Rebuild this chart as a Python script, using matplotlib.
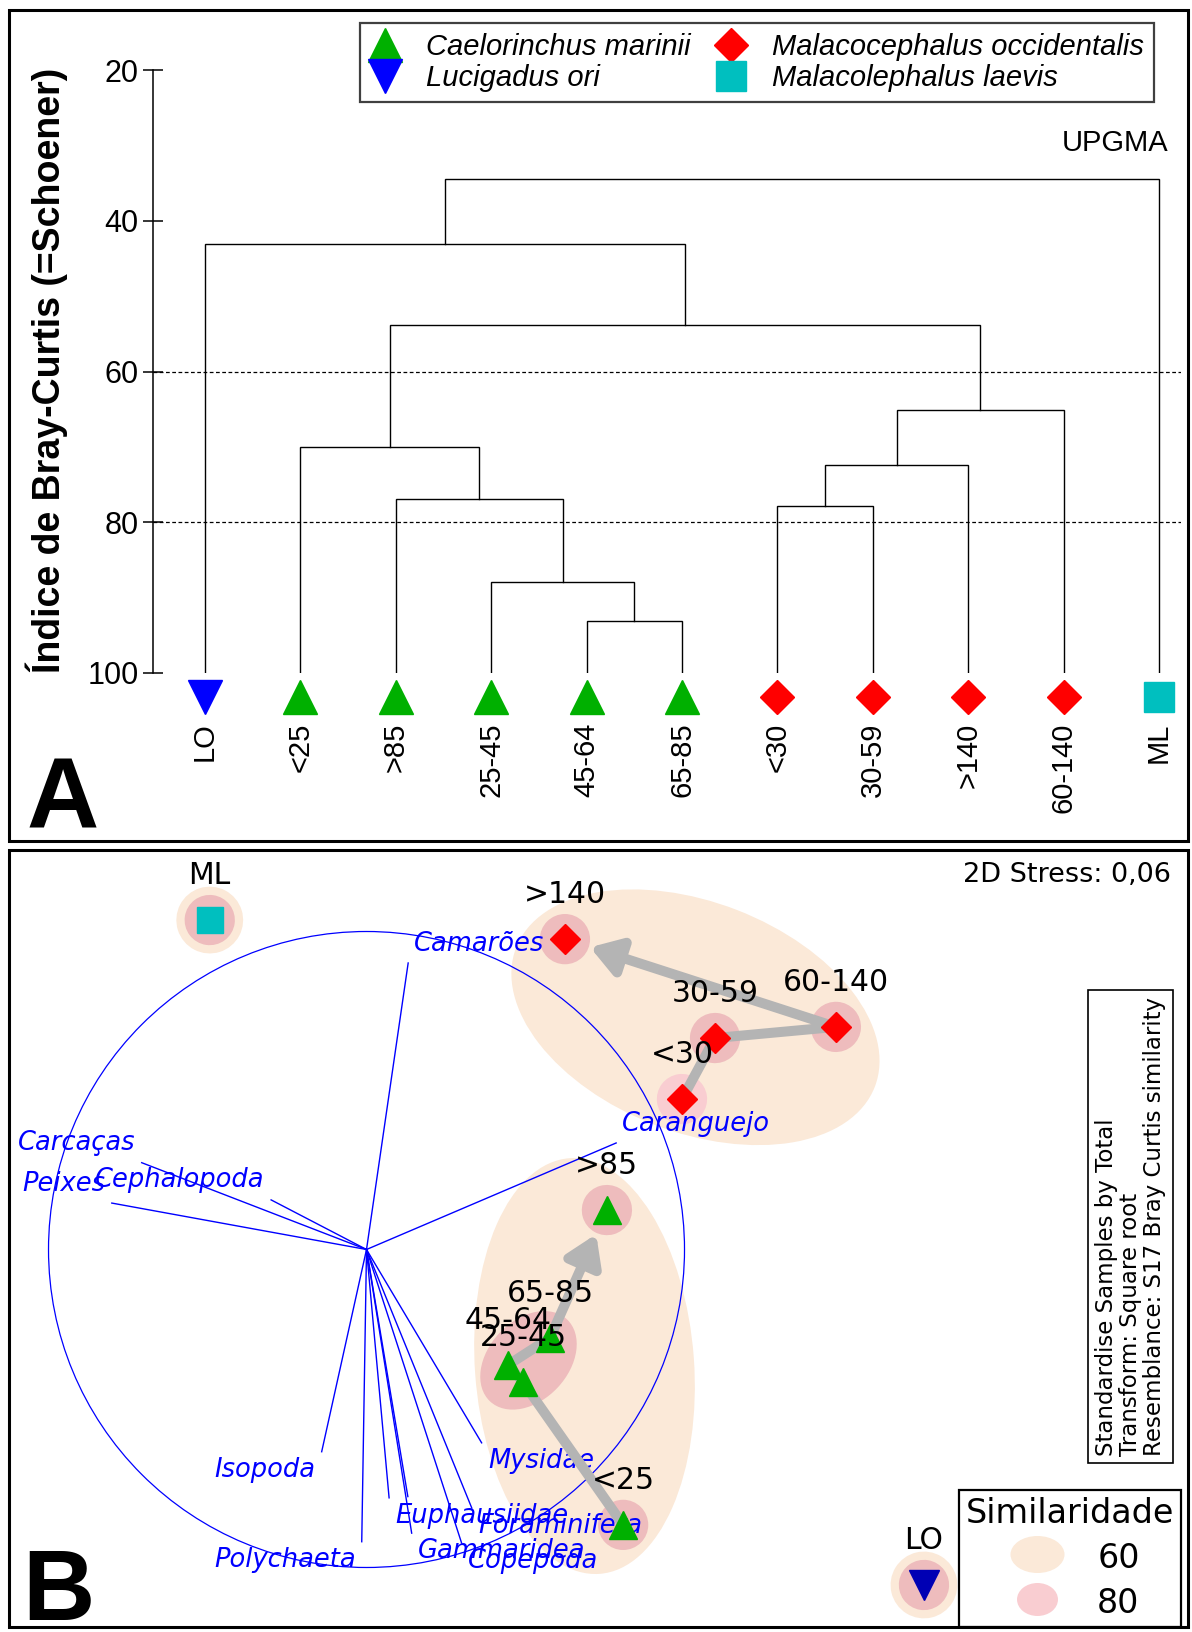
import matplotlib
matplotlib.use('Agg')
import matplotlib.pyplot as plt
import numpy as np
from matplotlib.lines import Line2D
from matplotlib.patches import Circle, Ellipse, Rectangle
from matplotlib.path import Path
from matplotlib.transforms import Affine2D

plt.rcParams['font.family'] = ['Liberation Sans', 'DejaVu Sans']

W, H = 1192, 1632

# ---------------------------------------------------------------- data
# species: key -> legend label
species_keys = ['CM', 'LO', 'MO', 'ML']
species_labels = ['Caelorinchus marinii', 'Lucigadus ori',
                  'Malacocephalus occidentalis', 'Malacolephalus laevis']

# panel A: UPGMA dendrogram (leaves in plotting order)
leaf_labels = ['LO', '<25', '>85', '25-45', '45-64', '65-85',
               '<30', '30-59', '>140', '60-140', 'ML']
leaf_species = ['LO', 'CM', 'CM', 'CM', 'CM', 'CM',
                'MO', 'MO', 'MO', 'MO', 'ML']
# merges, scipy style: new node ids start at len(leaf_labels)
merge_a = [4, 3, 2, 1, 6, 15, 16, 14, 0, 19]
merge_b = [5, 11, 12, 13, 7, 8, 9, 17, 18, 10]
merge_sim = [93.1, 87.9, 76.9, 70.0, 77.8, 72.4, 65.1, 53.8, 43.1, 34.5]
cut_levels = [60, 80]
y_ticks = [20, 40, 60, 80, 100]

# panel B: nMDS ordination
sample_names = ['ML', '>140', '30-59', '60-140', '<30', '>85',
                '65-85', '45-64', '25-45', '<25', 'LO']
sample_species = ['ML', 'MO', 'MO', 'MO', 'MO', 'CM',
                  'CM', 'CM', 'CM', 'CM', 'LO']
mds_x = [-0.493, 0.624, 1.096, 1.476, 0.992, 0.756,
         0.577, 0.445, 0.492, 0.807, 1.753]
mds_y = [1.036, 0.976, 0.665, 0.700, 0.473, 0.124,
         -0.278, -0.363, -0.417, -0.866, -1.055]

groups_60 = [['ML'], ['>140', '30-59', '60-140', '<30'],
             ['>85', '65-85', '45-64', '25-45', '<25'], ['LO']]
groups_80 = [['ML'], ['>140'], ['30-59'], ['60-140'], ['<30'], ['>85'],
             ['65-85', '45-64', '25-45'], ['<25'], ['LO']]
trajectories = [['<30', '30-59', '60-140', '>140'],
                ['<25', '25-45', '45-64', '65-85', '>85']]

# prey vectors (correlation circle); one vector has no printed label
vec_names = ['Camarões', 'Carcaças', 'Peixes', 'Cephalopoda', 'Caranguejo',
             'Isopoda', 'Polychaeta', 'Euphausiidae', '', 'Gammaridea',
             'Copepoda', 'Foraminifera', 'Mysidae']
vec_x = [0.131, -0.707, -0.801, -0.300, 0.785, -0.141, -0.015,
         0.071, 0.130, 0.142, 0.299, 0.331, 0.362]
vec_y = [0.901, 0.273, 0.146, 0.156, 0.335, -0.636, -0.919,
         -0.781, -0.777, -0.892, -0.923, -0.813, -0.608]

stress_text = '2D Stress: 0,06'
info_text = ('Standardise Samples by Total\nTransform: Square root\n'
             'Resemblance: S17 Bray Curtis similarity')

# ---------------------------------------------------------------- styles
sp_marker = {'CM': '^', 'LO': 'v', 'MO': 'D', 'ML': 's'}
sp_color = {'CM': '#00b000', 'LO': '#0000ff', 'MO': '#ff0000', 'ML': '#00bfbf'}
ms_a = {'CM': 25, 'LO': 25, 'MO': 17.5, 'ML': 21}
ms_b = {'CM': 19.5, 'LO': 21, 'MO': 15.3, 'ML': 18.5}
BEIGE = '#fbe9d8'
PINK = '#eebcbd'
PINK_LIGHT = '#f9cdd1'
GRAY = '#b4b4b4'
BLUE = '#0000ff'


def px_rect(x0, y0, x1, y1):
    """Figure-fraction rect from pixel box (top-left origin)."""
    return [x0 / W, 1 - y1 / H, (x1 - x0) / W, (y1 - y0) / H]


def enclosing_ellipse(xs, ys, r, **kw):
    """Minimum-area ellipse round discs of radius r (Khachiyan)."""
    t = np.linspace(0, 2 * np.pi, 48, endpoint=False)
    px = (np.asarray(xs)[:, None] + r * np.cos(t)).ravel()
    py = (np.asarray(ys)[:, None] + r * np.sin(t)).ravel()
    P = np.column_stack([px, py])
    n, d = P.shape
    Q = np.vstack([P.T, np.ones(n)])
    u = np.ones(n) / n
    for _ in range(20000):
        X = (Q * u) @ Q.T
        M = np.einsum('ij,ji->i', Q.T @ np.linalg.inv(X), Q)
        j = np.argmax(M)
        step = (M[j] - d - 1) / ((d + 1) * (M[j] - 1))
        new_u = (1 - step) * u
        new_u[j] += step
        done = np.linalg.norm(new_u - u) < 1e-7
        u = new_u
        if done:
            break
    c = P.T @ u
    A = np.linalg.inv((P.T * u) @ P - np.outer(c, c)) / d
    evals, evecs = np.linalg.eigh(A)
    semi = 1 / np.sqrt(evals)
    ang = np.degrees(np.arctan2(evecs[1, 0], evecs[0, 0]))
    return Ellipse(c, 2 * semi[0], 2 * semi[1], angle=ang, **kw)


fig = plt.figure(figsize=(W / 100, H / 100), dpi=100, facecolor='white')

# ================================================================ panel A
ax = fig.add_axes(px_rect(153, 70, 1181, 673))
ax.set_ylim(100, 20)
ax.set_xlim(-0.545, 10.23)
for side in ['top', 'right', 'bottom']:
    ax.spines[side].set_visible(False)
ax.spines['left'].set_linewidth(1.1)
ax.set_xticks([])
ax.set_yticks(y_ticks)
ax.tick_params(axis='y', direction='inout', length=15, width=1.1,
               labelsize=22, pad=3)

n_leaves = len(leaf_labels)
node_x = {i: float(i) for i in range(n_leaves)}
node_h = {i: 100.0 for i in range(n_leaves)}
for k, (a, b, s) in enumerate(zip(merge_a, merge_b, merge_sim)):
    xa, xb = node_x[a], node_x[b]
    ax.plot([xa, xa, xb, xb], [node_h[a], s, s, node_h[b]],
            color='black', lw=1.0, solid_joinstyle='miter')
    node_x[n_leaves + k] = (xa + xb) / 2
    node_h[n_leaves + k] = s

for lvl in cut_levels:
    ax.axhline(lvl, color='black', lw=0.9, ls=(0, (3, 2)))

for i, (lab, sp) in enumerate(zip(leaf_labels, leaf_species)):
    ax.plot(i, 103.2, ls='', marker=sp_marker[sp], ms=ms_a[sp],
            color=sp_color[sp], mec=sp_color[sp], clip_on=False)
    ax.text(i, 106.6, lab, rotation=90, ha='center', va='top', fontsize=21)

ax.text(0.988, 0.879, 'UPGMA', transform=ax.transAxes, ha='right',
        va='center', fontsize=21)

handles = [Line2D([], [], ls='', marker=sp_marker[k], ms=ms_a[k],
                  color=sp_color[k]) for k in species_keys]
leg = ax.legend(handles, species_labels, ncol=2, loc='upper left',
                bbox_to_anchor=(360 / W, 1 - 23 / H),
                bbox_transform=fig.transFigure, numpoints=1,
                prop=dict(family='Liberation Sans', style='italic', size=21),
                fancybox=False, edgecolor='#404040', framealpha=1,
                borderpad=0.35, handlelength=1.0, handletextpad=0.9,
                columnspacing=0.9, labelspacing=0.1, borderaxespad=0)
leg.get_frame().set_linewidth(1.6)

fig.text(47 / W, 1 - 370 / H, 'Índice de Bray-Curtis (=Schoener)',
         rotation=90, ha='center', va='center', fontsize=27,
         fontweight='bold')
fig.text(27 / W, 1 - 828 / H, 'A', fontsize=72, fontweight='bold',
         ha='left', va='baseline')

# ================================================================ panel B
bx = fig.add_axes(px_rect(8, 848, 1188, 1628))
bx.set_xlim(-1.1274, 2.5833)
bx.set_ylim(-1.1903, 1.2626)
bx.axis('off')

pos = {n: (x, y) for n, x, y in zip(sample_names, mds_x, mds_y)}
sp_of = dict(zip(sample_names, sample_species))

for grp in groups_60:
    xs, ys = zip(*[pos[n] for n in grp])
    bx.add_patch(enclosing_ellipse(xs, ys, 0.105, fc=BEIGE, ec='none',
                                   zorder=1))
for grp in groups_80:
    xs, ys = zip(*[pos[n] for n in grp])
    col = PINK_LIGHT if grp == ['<30'] else PINK
    bx.add_patch(enclosing_ellipse(xs, ys, 0.079, fc=col, ec='none',
                                   zorder=2))

bx.add_patch(Circle((0, 0), 1, fill=False, ec=BLUE, lw=0.9, zorder=3))
for name, vx, vy in zip(vec_names, vec_x, vec_y):
    bx.plot([0, vx], [0, vy], color=BLUE, lw=1.0, zorder=3)
    if name:
        dx = 4.5 if vx >= 0 else -4.5
        dy = 14 if vy >= 0 else -13
        bx.annotate(name, (vx, vy), xytext=(dx, dy),
                    textcoords='offset points',
                    ha='left' if vx >= 0 else 'right', va='center',
                    color=BLUE, fontsize=18.5, style='italic',
                    family='DejaVu Sans', zorder=3)

for traj in trajectories:
    xs, ys = zip(*[pos[n] for n in traj])
    bx.plot(xs[:-1], ys[:-1], color=GRAY, lw=7.2, solid_capstyle='butt',
            solid_joinstyle='round', zorder=4)
    bx.annotate('', xy=(xs[-1], ys[-1]), xytext=(xs[-2], ys[-2]),
                arrowprops=dict(arrowstyle='-|>,head_length=0.7,head_width=0.45',
                                color=GRAY, lw=7.2, shrinkA=0, shrinkB=19,
                                mutation_scale=25), zorder=4)

for n in sample_names:
    sp = sp_of[n]
    col = '#0000b4' if sp == 'LO' else sp_color[sp]
    bx.plot(*pos[n], ls='', marker=sp_marker[sp], ms=ms_b[sp], color=col,
            zorder=5)
    bx.annotate(n, pos[n], xytext=(0, 32), textcoords='offset points',
                ha='center', va='center', fontsize=21.5,
                family='DejaVu Sans', zorder=6)

bx.text(0.9854, 0.965, stress_text, transform=bx.transAxes,
        ha='right', va='center', fontsize=19.5, family='DejaVu Sans')

bx.text((1130.5 - 8) / 1180, (1628 - 1456) / 780, info_text,
        transform=bx.transAxes, rotation=90, ha='center', va='bottom',
        fontsize=16.5, family='DejaVu Sans', linespacing=1.05,
        multialignment='left',
        bbox=dict(boxstyle='square,pad=0.3', fc='white', ec='black', lw=1.2))

ell60 = Path.unit_circle().transformed(Affine2D().scale(1, 37 / 54))
ell80 = Path.unit_circle().transformed(Affine2D().scale(1, 33 / 41))
sim_handles = [Line2D([], [], ls='', marker=ell60, ms=38.9, mfc=BEIGE,
                      mec='none'),
               Line2D([], [], ls='', marker=ell80, ms=29.5, mfc=PINK_LIGHT,
                      mec='none')]
leg2 = bx.legend(sim_handles, ['60', '80'], title='Similaridade',
                 loc='lower right', bbox_to_anchor=(1181 / W, 1 - 1627 / H),
                 bbox_transform=fig.transFigure, numpoints=1,
                 prop=dict(family='DejaVu Sans', size=24),
                 title_fontproperties=dict(family='DejaVu Sans', size=24),
                 fancybox=False, edgecolor='black', framealpha=1,
                 borderpad=0.2, handlelength=2.2, handleheight=1.2,
                 handletextpad=0.7, labelspacing=0.3, borderaxespad=0)
leg2.get_frame().set_linewidth(1.6)

fig.text(22 / W, 1 - 1620 / H, 'B', fontsize=72, fontweight='bold',
         ha='left', va='baseline')

# panel frames
for box in [(8.5, 9.5, 1187.5, 840.5), (8.5, 849.5, 1187.5, 1627)]:
    fig.add_artist(Rectangle((box[0] / W, 1 - box[3] / H),
                             (box[2] - box[0]) / W, (box[3] - box[1]) / H,
                             transform=fig.transFigure, fill=False,
                             lw=2.2, ec='black'))

fig.savefig('out.png', dpi=100, facecolor='white')
